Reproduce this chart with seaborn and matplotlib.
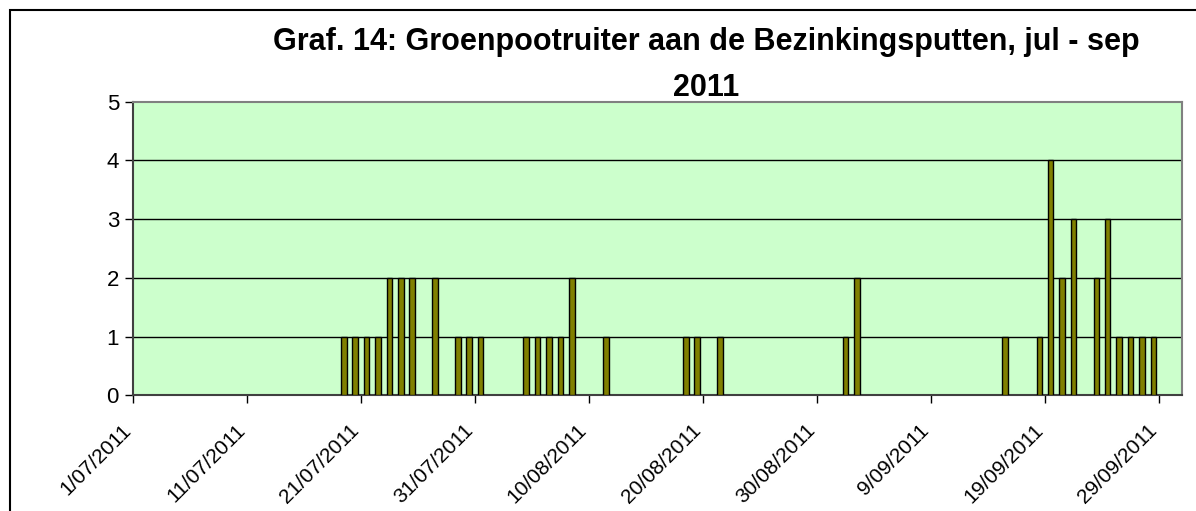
import matplotlib
matplotlib.use("Agg")
import matplotlib.pyplot as plt
import matplotlib.transforms as mtransforms
import pandas as pd
import seaborn as sns

sns.set_theme(style="white")
plt.rcParams["font.family"] = ["Liberation Sans", "DejaVu Sans"]
plt.rcParams["text.color"] = "black"

# observation dates (2011) and counts of Groenpootruiter
dates = [
    "19/07", "20/07", "21/07", "22/07", "23/07", "24/07", "25/07", "27/07",
    "29/07", "30/07", "31/07", "04/08", "05/08", "06/08", "07/08", "08/08",
    "11/08", "18/08", "19/08", "21/08", "01/09", "02/09", "15/09", "18/09",
    "19/09", "20/09", "21/09", "23/09", "24/09", "25/09", "26/09", "27/09",
    "28/09",
]
counts = [
    1, 1, 1, 1, 2, 2, 2, 2,
    1, 1, 1, 1, 1, 1, 1, 2,
    1, 1, 1, 1, 1, 2, 1, 1,
    4, 2, 3, 2, 3, 1, 1, 1,
    1,
]
tick_dates = ["1/07", "11/07", "21/07", "31/07", "10/08", "20/08",
              "30/08", "9/09", "19/09", "29/09"]
y_ticks = [0, 1, 2, 3, 4, 5]

start = pd.Timestamp("2011-07-01")
end = pd.Timestamp("2011-10-01")

df = pd.DataFrame({
    "date": pd.to_datetime([d + "/2011" for d in dates], dayfirst=True),
    "aantal": counts,
})
# bars sit in the middle of their day slot (Excel date axis)
df["day"] = (df["date"] - start).dt.days + 0.5

tick_ts = pd.to_datetime([d + "/2011" for d in tick_dates], dayfirst=True)
tick_pos = (tick_ts - start).days
tick_labels = [f"{t.day}/{t.month:02d}/{t.year}" for t in tick_ts]

fig = plt.figure(figsize=(11.96, 5.11), dpi=100)
ax = fig.add_axes([0.1111, 0.2264, 0.877, 0.5746])
ax.set_facecolor("#CCFFCC")

sns.barplot(data=df, x="day", y="aantal", native_scale=True, width=0.48,
            color="#808000", saturation=1, edgecolor="black", linewidth=1,
            ax=ax, zorder=3)

ax.set_xlim(0, (end - start).days)
ax.set_ylim(0, 5)
ax.set_yticks(y_ticks)
ax.set_xticks(tick_pos)
ax.set_xticklabels(tick_labels, rotation=45, ha="right", va="center",
                   rotation_mode="anchor")
ax.tick_params(axis="both", colors="black", length=6, width=1,
               direction="out", bottom=True, left=True)
ax.tick_params(axis="y", labelsize=16, pad=4)
ax.tick_params(axis="x", labelsize=15, pad=17)
shift = mtransforms.ScaledTranslation(-5 / 100, 0, fig.dpi_scale_trans)
for lbl in ax.get_xticklabels():
    lbl.set_transform(lbl.get_transform() + shift)
ax.set_xlabel("")
ax.set_ylabel("")

for y in y_ticks[1:-1]:
    ax.axhline(y, color="black", lw=1, zorder=1)

for side in ["left", "bottom"]:
    ax.spines[side].set_color("#404040")
    ax.spines[side].set_linewidth(1.5)
for side in ["top", "right"]:
    ax.spines[side].set_color("#808080")
    ax.spines[side].set_linewidth(1.5)

fig.text(706 / 1196, 1 - 50 / 511, "Graf. 14: Groenpootruiter aan de Bezinkingsputten, jul - sep",
         ha="center", va="baseline", fontsize=22, fontweight="bold")
fig.text(706 / 1196, 1 - 96 / 511, "2011",
         ha="center", va="baseline", fontsize=22, fontweight="bold")

# outer chart border (cut off at right and bottom)
fig.add_artist(plt.Rectangle((10 / 1196, -0.1), 1.2, 1.1 - 10 / 511,
                             transform=fig.transFigure, fill=False,
                             edgecolor="black", lw=1.5))

fig.savefig("out.png", dpi=100)
